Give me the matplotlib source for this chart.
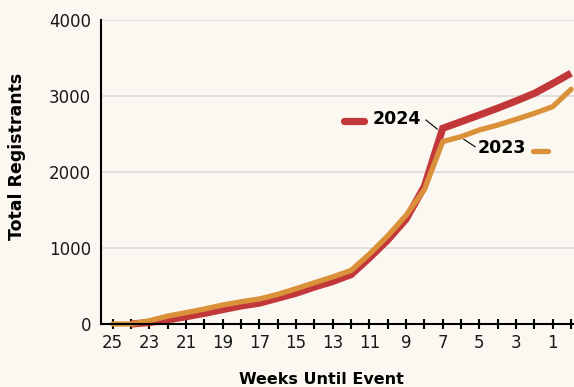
import matplotlib
matplotlib.use("Agg")
import matplotlib.pyplot as plt
from matplotlib.ticker import MultipleLocator

weeks_2024 = [24, 23, 22, 21, 20, 19, 18, 17, 16, 15, 14, 13, 12, 11, 10, 9, 8, 7, 6, 5, 4, 3, 2, 1, 0]
reg_2024 = [0, 20, 55, 96, 140, 190, 238, 275, 340, 405, 487, 560, 650, 870, 1105, 1380, 1810, 2575, 2662, 2750, 2840, 2935, 3035, 3165, 3300]
weeks_2023 = [25, 24, 23, 22, 21, 20, 19, 18, 17, 16, 15, 14, 13, 12, 11, 10, 9, 8, 7, 6, 5, 4, 3, 2, 1, 0]
reg_2023 = [0, 0, 43, 105, 150, 197, 250, 293, 329, 390, 465, 543, 620, 705, 920, 1160, 1430, 1770, 2400, 2465, 2553, 2618, 2693, 2772, 2860, 3088]
x_tick_labels = [25, 23, 21, 19, 17, 15, 13, 11, 9, 7, 5, 3, 1]
y_ticks = [0, 1000, 2000, 3000, 4000]

RED = "#C2383A"
ORANGE = "#DA913A"
BG = "#FBF7F1"
FONT = "DejaVu Sans"

fig = plt.figure(figsize=(5.74, 3.87), dpi=100, facecolor=BG)
ax = fig.add_axes([101/574, 63/387, 473/574, 304/387], facecolor=BG)

ax.plot(weeks_2024, reg_2024, color=RED, lw=5.2, solid_capstyle="butt", solid_joinstyle="miter", clip_on=False, zorder=3)
ax.plot(weeks_2023, reg_2023, color=ORANGE, lw=3.8, solid_capstyle="round", solid_joinstyle="miter", clip_on=False, zorder=4)

ax.set_xlim(25.64, -0.16)
ax.set_ylim(0, 4000)
ax.set_xticks(x_tick_labels)
ax.set_xticklabels([str(v) for v in x_tick_labels], fontfamily=FONT, fontsize=12, color="#1a1a1a")
ax.xaxis.set_minor_locator(MultipleLocator(1))
ax.set_yticks(y_ticks)
ax.set_yticklabels([str(v) for v in y_ticks], fontfamily=FONT, fontsize=12, color="#1a1a1a")

ax.tick_params(axis="x", which="both", direction="inout", length=6.5, width=1.5, color="black", pad=4)
ax.tick_params(axis="y", length=0, pad=7)

ax.grid(axis="y", color="#D8D8D8", lw=1.1, zorder=0)
for s in ["top", "right"]:
    ax.spines[s].set_visible(False)
for s in ["left", "bottom"]:
    ax.spines[s].set_linewidth(1.5)
    ax.spines[s].set_zorder(5)

ax.set_xlabel("Weeks Until Event", fontfamily=FONT, fontweight="bold", fontsize=11.5, va="baseline")
ax.xaxis.set_label_coords(0.467, -0.198)
ax.set_ylabel("Total Registrants", fontfamily=FONT, fontweight="bold", fontsize=12.5, va="center")
ax.yaxis.set_label_coords(-0.177, 0.553)

# Legend-like labels
ax.plot([0.514, 0.556], [0.669, 0.669], transform=ax.transAxes, color=RED, lw=5.2, solid_capstyle="round", clip_on=False)
ax.text(0.6765, 0.674, "2024", transform=ax.transAxes, ha="right", va="center", fontfamily=FONT, fontweight="bold", fontsize=12.5)
ax.plot([0.687, 0.711], [0.671, 0.641], transform=ax.transAxes, color="black", lw=0.8)

ax.plot([0.913, 0.945], [0.570, 0.570], transform=ax.transAxes, color=ORANGE, lw=3.8, solid_capstyle="round", clip_on=False)
ax.text(0.797, 0.579, "2023", transform=ax.transAxes, ha="left", va="center", fontfamily=FONT, fontweight="bold", fontsize=12.5)
ax.plot([0.767, 0.791], [0.6076, 0.583], transform=ax.transAxes, color="black", lw=0.8)

fig.savefig("out.png", dpi=100, facecolor=BG)
